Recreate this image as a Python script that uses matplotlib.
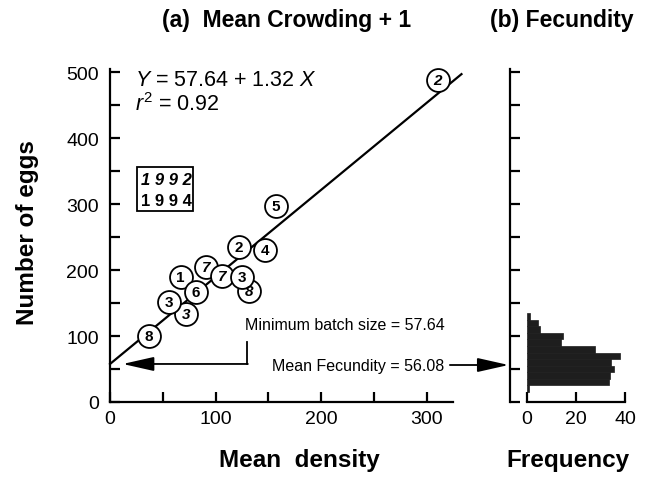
import matplotlib
matplotlib.use("Agg")
import matplotlib.pyplot as plt
from matplotlib.patches import Rectangle

plt.rcParams['font.family'] = ['Liberation Sans', 'DejaVu Sans']
plt.rcParams['mathtext.fontset'] = 'custom'
plt.rcParams['mathtext.it'] = 'Liberation Sans:italic'
plt.rcParams['mathtext.rm'] = 'Liberation Sans'

# Mean crowding + 1 vs number of eggs, numbers = site labels
x_1992 = [310.6, 91, 106, 132, 72]
y_1992 = [489, 205, 191, 168, 133]
lab_1992 = ["2", "7", "7", "8", "3"]

x_1994 = [157, 122, 147, 67, 125, 81, 56, 36.5]
y_1994 = [297, 235, 230, 189, 189, 167, 152, 100]
lab_1994 = ["5", "2", "4", "1", "3", "6", "3", "8"]

intercept = 57.64
slope = 1.32
mean_fecundity = 56.08

# Fecundity histogram (bins of 10 eggs)
bin_lo = [15, 25, 35, 45, 55, 65, 75, 85, 95, 105, 115, 125]
freq = [1, 33.5, 34, 35.4, 34.4, 37.8, 27.6, 14, 14.7, 5.2, 4.5, 1.4]

fig = plt.figure(figsize=(6.46, 4.81), dpi=100)
ax1 = fig.add_axes([0.1703, 0.1622, 0.531, 0.6923])
ax2 = fig.add_axes([0.8158, 0.1622, 0.1517, 0.6923])

# --- panel (a) ---
ax1.plot([0, 333], [intercept, intercept + slope * 333], color='k', lw=1.6, clip_on=False, zorder=2)
for xs, ys, labs, style in [(x_1992, y_1992, lab_1992, 'italic'), (x_1994, y_1994, lab_1994, 'normal')]:
    ax1.scatter(xs, ys, s=16.5 ** 2, facecolor='white', edgecolor='k', linewidth=1.3, zorder=3, clip_on=False)
    for x, y, t in zip(xs, ys, labs):
        ax1.text(x, y, t, ha='center', va='center', fontsize=11, fontweight='bold',
                 fontstyle=style, zorder=4)

ax1.text(24, 489, "$Y$ = 57.64 + 1.32 $X$", fontsize=15.5, va='center', ha='left')
ax1.text(24, 452, "$r^2$ = 0.92", fontsize=15.5, va='center', ha='left')

ax1.add_patch(Rectangle((26, 289), 53, 67, fill=False, edgecolor='k', lw=1.3))
ax1.text(29, 338, "1 9 9 2", fontsize=12, fontweight='bold', fontstyle='italic', va='center')
ax1.text(29, 306, "1 9 9 4", fontsize=12, fontweight='bold', va='center')

ax1.text(317, 117, "Minimum batch size = 57.64", fontsize=11.5, ha='right', va='center')
ax1.text(317, mean_fecundity, "Mean Fecundity = 56.08", fontsize=11.5, ha='right', va='center')
ax1.plot([130, 130], [91, intercept], color='k', lw=1.3)
ax1.annotate('', xy=(12, intercept), xytext=(130.6, intercept),
             arrowprops=dict(arrowstyle='-|>,head_length=0.8,head_width=0.18', mutation_scale=24,
                             lw=1.3, color='k', shrinkA=0, shrinkB=0))
ax2.annotate('', xy=(-7.5, mean_fecundity), xytext=(322, mean_fecundity),
             xycoords='data', textcoords=ax1.transData, annotation_clip=False,
             arrowprops=dict(arrowstyle='-|>,head_length=0.8,head_width=0.18', mutation_scale=24,
                             lw=1.3, color='k', shrinkA=0, shrinkB=0))

ax1.set_xlim(0, 325)
ax1.set_ylim(0, 505)
ax1.set_xticks(range(0, 301, 50))
ax1.set_xticklabels(["0", "", "100", "", "200", "", "300"])
ax1.set_yticks(range(0, 501, 50))
ax1.set_yticklabels([str(v) if v % 100 == 0 else "" for v in range(0, 501, 50)])

# --- panel (b) ---
ax2.barh(bin_lo, freq, height=10, align='edge', color='#1e1e1e', edgecolor='#1e1e1e', lw=0.5)
ax2.set_xlim(0, 40)
ax2.set_ylim(0, 505)
ax2.set_xticks([0, 20, 40])
ax2.set_yticks(range(0, 501, 50))
ax2.set_yticklabels([])
ax2.spines['left'].set_position(('outward', 12))

for ax in (ax1, ax2):
    for s in ('top', 'right'):
        ax.spines[s].set_visible(False)
    for s in ('left', 'bottom'):
        ax.spines[s].set_linewidth(1.6)
    ax.tick_params(direction='in', length=7, width=1.6, labelsize=14)
    ax.tick_params(axis='y', pad=8)
    ax.tick_params(axis='x', pad=6)

fig.text(287 / 646, 1 - 21 / 481, "(a)  Mean Crowding + 1", fontsize=16.5, fontweight='bold', ha='center', va='center')
fig.text(562 / 646, 1 - 21 / 481, "(b) Fecundity", fontsize=16.5, fontweight='bold', ha='center', va='center')
fig.text(28 / 646, 1 - 233 / 481, "Number of eggs", fontsize=17.5, fontweight='bold', rotation=90, ha='center', va='center')
fig.text(299 / 646, 1 - 460 / 481, "Mean  density", fontsize=17.5, fontweight='bold', ha='center', va='center')
fig.text(568 / 646, 1 - 460 / 481, "Frequency", fontsize=17.5, fontweight='bold', ha='center', va='center')

fig.savefig("out.png", dpi=100)
